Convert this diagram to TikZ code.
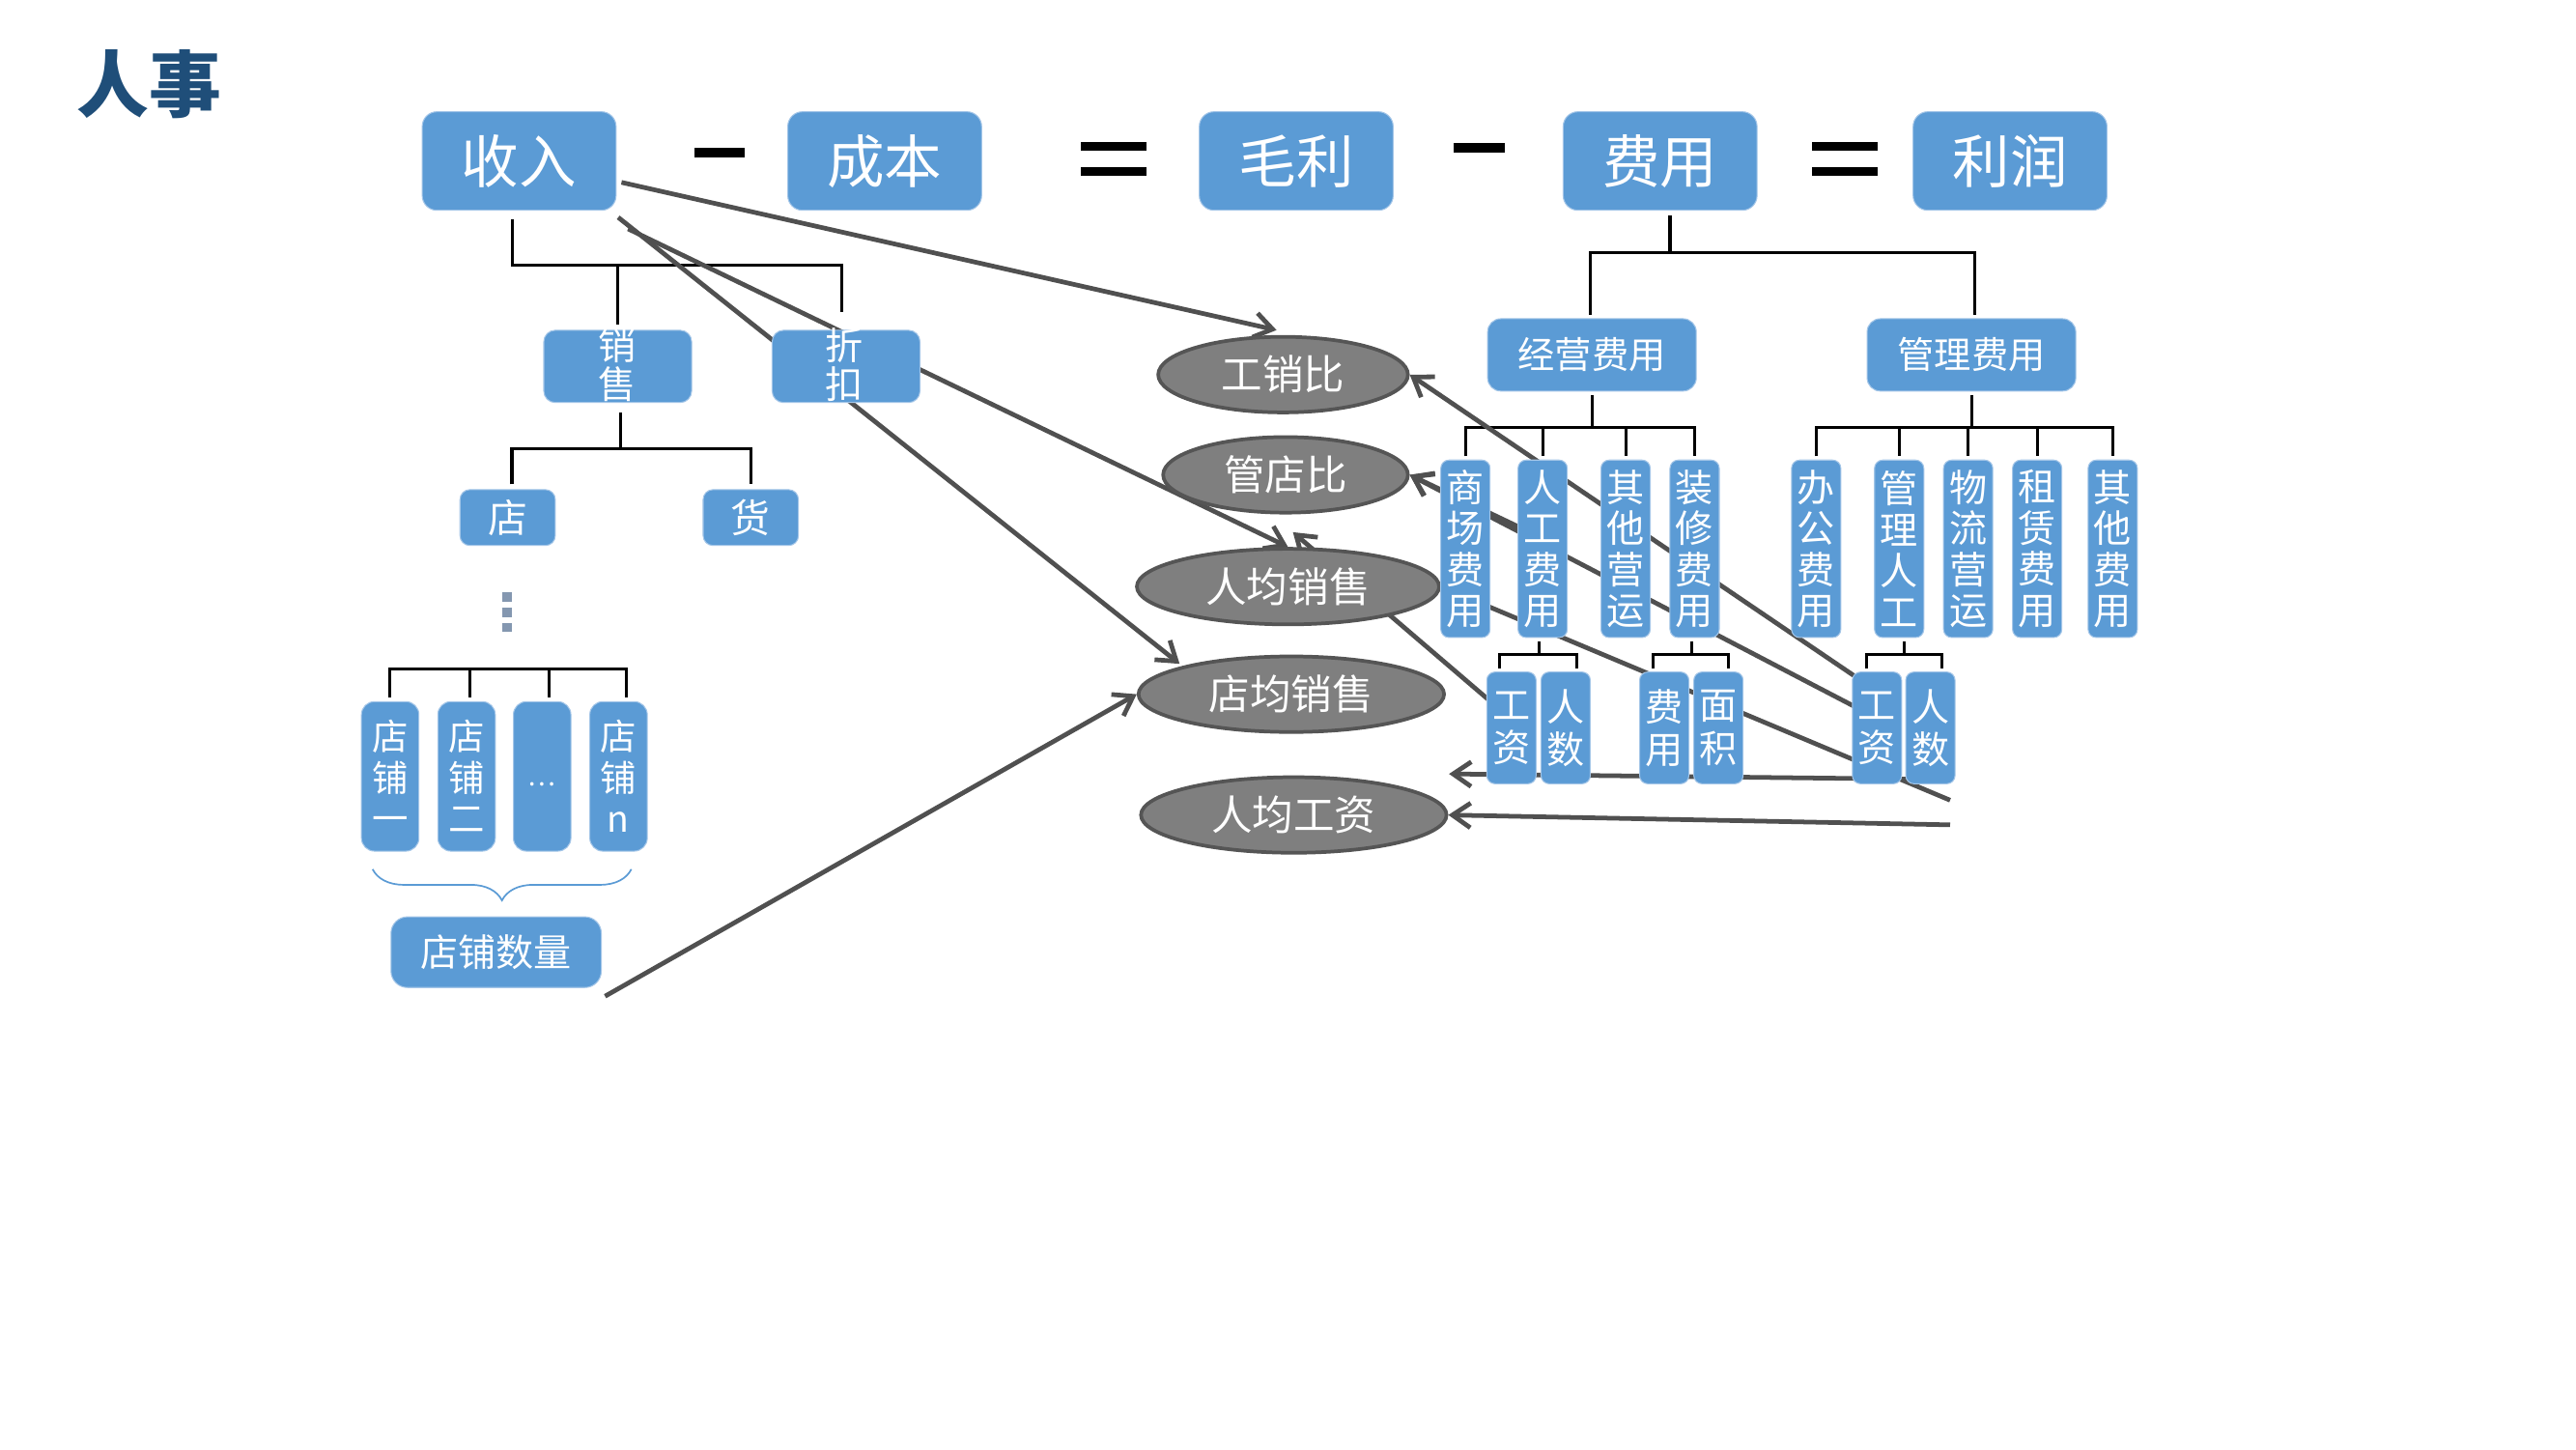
\documentclass[tikz,border=0pt]{standalone}
\usepackage{fontspec}
\setmainfont{Noto Sans CJK SC}
\usetikzlibrary{arrows.meta,shapes.geometric,decorations.pathreplacing}
\definecolor{boxblue}{HTML}{5B9BD5}
\definecolor{boxedge}{HTML}{A4C6E8}
\definecolor{ellfill}{HTML}{7F7F7F}
\definecolor{elledge}{HTML}{555555}
\definecolor{conncol}{HTML}{505050}
\definecolor{titleblue}{HTML}{1F4E79}
\definecolor{dotcol}{HTML}{8497B0}
\pgfdeclarelayer{back}
\pgfdeclarelayer{bg}
\pgfsetlayers{back,bg,main}
\newcommand{\fsz}[2]{\fontsize{#1pt}{#2pt}\selectfont}
\tikzset{
  bluebox/.style={rectangle, fill=boxblue, draw=boxedge, line width=0.6pt, inner sep=0pt, text=white, align=center},
  topbox/.style={bluebox, rounded corners=9pt, minimum width=118pt, minimum height=60pt, font=\fsz{35}{36}},
  midbox/.style={bluebox, rounded corners=7pt, minimum width=90pt, minimum height=44pt},
  midtext/.style={inner sep=0pt, text=white, align=center, font=\fsz{23}{24}},
  smallbox/.style={bluebox, rounded corners=6pt, minimum width=58pt, minimum height=34pt, font=\fsz{24}{24}},
  storebox/.style={bluebox, rounded corners=8pt, minimum width=35pt, minimum height=91pt, font=\fsz{22}{25}},
  colbox/.style={bluebox, rounded corners=5pt, minimum width=30pt, minimum height=108pt, font=\fsz{23}{25}},
  subbox/.style={bluebox, rounded corners=5pt, minimum width=30pt, minimum height=68pt, font=\fsz{23}{26}},
  ell/.style={ellipse, fill=ellfill, draw=elledge, line width=2.2pt, inner sep=0pt, text=white, font=\fsz{25}{25}, minimum height=46pt},
  opbar/.style={rectangle, fill=black, draw=none, inner sep=0pt},
  tree/.style={draw=black, line width=1.8pt},
  conn/.style={draw=conncol, line width=2.8pt},
  arr/.style={conn, -{Straight Barb[length=11pt,width=15pt]}},
}
\begin{document}
\begin{tikzpicture}[x=1pt,y=-1pt]
\begin{pgfonlayer}{back}
\fill[white] (0,0) rectangle (1568,882);
\end{pgfonlayer}
\useasboundingbox (0,0) rectangle (1568,882);

% title
\node[font=\bfseries\fsz{44}{44}, text=titleblue, inner sep=0pt] (title) at (91,51) {人事};

% top row
\node[topbox] (sr) at (316,98) {收入};
\node[topbox] (cb) at (538.5,98) {成本};
\node[topbox] (ml) at (789,98) {毛利};
\node[topbox] (fy0) at (1010.5,98) {费用};
\node[topbox] (lr) at (1223.5,98) {利润};
\node[opbar, minimum width=30pt, minimum height=6pt] (minus1) at (438,93) {};
\node[opbar, minimum width=31pt, minimum height=6pt] (minus2) at (900.5,90) {};
\node[opbar, minimum width=40pt, minimum height=5.5pt] (eq1a) at (678,89) {};
\node[opbar, minimum width=40pt, minimum height=5.5pt] (eq1b) at (678,104.5) {};
\node[opbar, minimum width=40pt, minimum height=5.5pt] (eq2a) at (1123,89) {};
\node[opbar, minimum width=40pt, minimum height=5.5pt] (eq2b) at (1123,104.5) {};

% left tree
\node[midbox] (xs) at (376,223) {};
\node[midtext] (xst) at (376,222) {销\\售};
\node[midbox] (zk) at (515,223) {};
\node[midtext] (zkt) at (514,222) {折\\扣};
\node[smallbox] (dian) at (309,315) {店};
\node[smallbox] (huo) at (457,315) {货};
\fill[dotcol] (305.7,360.4) rectangle (311.5,366);
\fill[dotcol] (305.7,369.8) rectangle (311.5,375.5);
\fill[dotcol] (305.7,379) rectangle (311.5,384.5);
\node[storebox] (s1) at (237.5,472.5) {店\\铺\\一};
\node[storebox] (s2) at (284,472.5) {店\\铺\\二};
\node[storebox, font=\fsz{16}{16}, text height=12pt, text depth=0pt] (s3) at (330,472.5) {…};
\node[storebox] (s4) at (376.5,472.5) {店\\铺\\n};
\draw[draw=boxblue, line width=1pt, decorate, decoration={brace, amplitude=19pt}] (384.3,529) -- (226.8,529);
\node[midbox, minimum width=128pt, minimum height=43pt, rounded corners=10pt, font=\fsz{23}{23}] (dpsl) at (302,579.5) {店铺数量};

% ellipses
\node[ell, minimum width=152pt] (gxb) at (781,228) {工销比};
\node[ell, minimum width=149pt] (gdb) at (782.5,289) {管店比};
\node[ell, minimum width=184pt] (rjxs) at (784,357) {人均销售};
\node[ell, minimum width=186pt] (djxs) at (786,422.5) {店均销售};
\node[ell, minimum width=186pt] (rjgz) at (787.5,496) {人均工资};

% right tree
\node[midbox, minimum width=127pt, rounded corners=8pt, font=\fsz{22.5}{23}] (jy) at (969,216) {经营费用};
\node[midbox, minimum width=127pt, rounded corners=8pt, font=\fsz{22.5}{23}] (gl) at (1200,216) {管理费用};
\node[colbox] (sc) at (892,334) {商\\场\\费\\用};
\node[colbox] (rg) at (939,334) {人\\工\\费\\用};
\node[colbox] (qt) at (989.5,334) {其\\他\\营\\运};
\node[colbox] (zx) at (1031.5,334) {装\\修\\费\\用};
\node[colbox] (bgf) at (1105.5,334) {办\\公\\费\\用};
\node[colbox] (glrg) at (1156,334) {管\\理\\人\\工};
\node[colbox] (wl) at (1198,334) {物\\流\\营\\运};
\node[colbox] (zl) at (1240,334) {租\\赁\\费\\用};
\node[colbox] (qtf) at (1286,334) {其\\他\\费\\用};
\node[subbox] (jgz) at (920,443) {工\\资};
\node[subbox] (jrs) at (953,443) {人\\数};
\node[subbox] (fyb) at (1013,443) {费\\用};
\node[subbox] (mj) at (1046,443) {面\\积};
\node[subbox] (glgz) at (1142.5,443) {工\\资};
\node[subbox] (glrs) at (1175,443) {人\\数};

\begin{pgfonlayer}{bg}
% T1
\coordinate (b1) at ([xshift=-4pt,yshift=-33pt]sr.south);
\coordinate (zkin) at ([xshift=-2.5pt,yshift=11pt]zk.north);
\draw[tree] ([xshift=-4pt,yshift=-5pt]sr.south) -- (b1) -- (zkin |- b1) -- (zkin);
\draw[tree] (xs.north |- b1) -- ([yshift=3pt]xs.north);
% T2
\coordinate (b2) at ([xshift=1.7pt,yshift=-28pt]xs.south);
\coordinate (dianin) at ([xshift=2.6pt,yshift=3pt]dian.north);
\coordinate (huoin) at ([yshift=3pt]huo.north);
\draw[tree] ([xshift=1.7pt,yshift=-6pt]xs.south) -- (b2);
\draw[tree] (dianin) -- (dianin |- b2) -- (huoin |- b2) -- (huoin);
% T3
\coordinate (b3) at ([yshift=19.5pt]s1.north);
\coordinate (s1in) at ([yshift=2pt]s1.north);
\coordinate (s2in) at ([xshift=2pt,yshift=2pt]s2.north);
\coordinate (s3in) at ([xshift=4pt,yshift=2pt]s3.north);
\coordinate (s4in) at ([xshift=4.5pt,yshift=2pt]s4.north);
\draw[tree] (s1in) -- (b3) -- (s4in |- b3) -- (s4in);
\draw[tree] (s2in |- b3) -- (s2in);
\draw[tree] (s3in |- b3) -- (s3in);
% T4
\coordinate (b4) at ([xshift=6pt,yshift=-25.3pt]fy0.south);
\coordinate (jyin) at ([xshift=-1pt,yshift=2pt]jy.north);
\coordinate (glin) at ([xshift=2pt,yshift=2pt]gl.north);
\draw[tree] ([xshift=6pt,yshift=-3pt]fy0.south) -- (b4);
\draw[tree] (jyin) -- (jyin |- b4) -- (glin |- b4) -- (glin);
% T5
\coordinate (b5) at ([yshift=-22pt]jy.south);
\draw[tree] ([yshift=-2pt]jy.south) -- (b5);
\draw[tree] ([yshift=2pt]sc.north) -- (sc.north |- b5) -- (zx.north |- b5) -- ([yshift=2pt]zx.north);
\foreach \nm in {rg,qt} \draw[tree] (\nm.north |- b5) -- ([yshift=2pt]\nm.north);
% T6
\coordinate (b6) at ([yshift=-22pt]gl.south);
\draw[tree] ([yshift=-2pt]gl.south) -- (b6);
\draw[tree] ([yshift=2pt]bgf.north) -- (bgf.north |- b6) -- (qtf.north |- b6) -- ([yshift=2pt]qtf.north);
\foreach \nm in {glrg,wl,zl} \draw[tree] (\nm.north |- b6) -- ([yshift=2pt]\nm.north);
% T7
\coordinate (b7) at ([xshift=-2pt,yshift=-10pt]rg.south);
\coordinate (jgzin) at ([xshift=-7pt,yshift=2pt]jgz.north);
\coordinate (jrsin) at ([xshift=7pt,yshift=2pt]jrs.north);
\draw[tree] ([xshift=-2pt,yshift=-2pt]rg.south) -- (b7);
\draw[tree] (jgzin) -- (jgzin |- b7) -- (jrsin |- b7) -- (jrsin);
% T8
\coordinate (b8) at ([xshift=-2pt,yshift=-10pt]zx.south);
\coordinate (fybin) at ([xshift=-7pt,yshift=2pt]fyb.north);
\coordinate (mjin) at ([xshift=6pt,yshift=2pt]mj.north);
\draw[tree] ([xshift=-2pt,yshift=-2pt]zx.south) -- (b8);
\draw[tree] (fybin) -- (fybin |- b8) -- (mjin |- b8) -- (mjin);
% T9
\coordinate (b9) at ([xshift=3pt,yshift=-10pt]glrg.south);
\coordinate (glgzin) at ([xshift=-6.5pt,yshift=2pt]glgz.north);
\coordinate (glrsin) at ([xshift=7pt,yshift=2pt]glrs.north);
\draw[tree] ([xshift=3pt,yshift=-2pt]glrg.south) -- (b9);
\draw[tree] (glgzin) -- (glgzin |- b9) -- (glrsin |- b9) -- (glrsin);

% grey connectors
\draw[arr] ([xshift=3pt,yshift=-13pt]sr.east) -- ([xshift=-4pt,yshift=3pt]gxb.north);
\draw[arr] ([xshift=7pt,yshift=-11pt]sr.south east) -- (rjxs.north);
\draw[arr] ([xshift=1pt,yshift=-4pt]sr.south east) -- ([xshift=-68pt,yshift=18.5pt]djxs.center);
\draw[arr] ([xshift=2pt,yshift=-5pt]dpsl.south east) -- (djxs.west);
\draw[arr] ([xshift=2pt,yshift=-3pt]glgz.north west) -- (gxb.east);
\draw[arr] ([xshift=3pt,yshift=-22pt]glgz.north west) -- (gdb.east);
\draw[arr] ([xshift=5pt,yshift=4pt]rg.center) -- (gdb.east);
\coordinate (e8) at (1187,487);
\draw[conn] (e8) -- (rjxs.east);
\draw[arr] ([xshift=7pt,yshift=-22pt]jgz.north west) -- ([xshift=3pt,yshift=9pt]rjxs.north);
\coordinate (e10) at (882,471);
\draw[arr] ([yshift=3pt]glrs.south) -- (e10);
\coordinate (e11) at (1187,502);
\draw[arr] (e11) -- (rjgz.east);
\end{pgfonlayer}
\end{tikzpicture}
\end{document}
